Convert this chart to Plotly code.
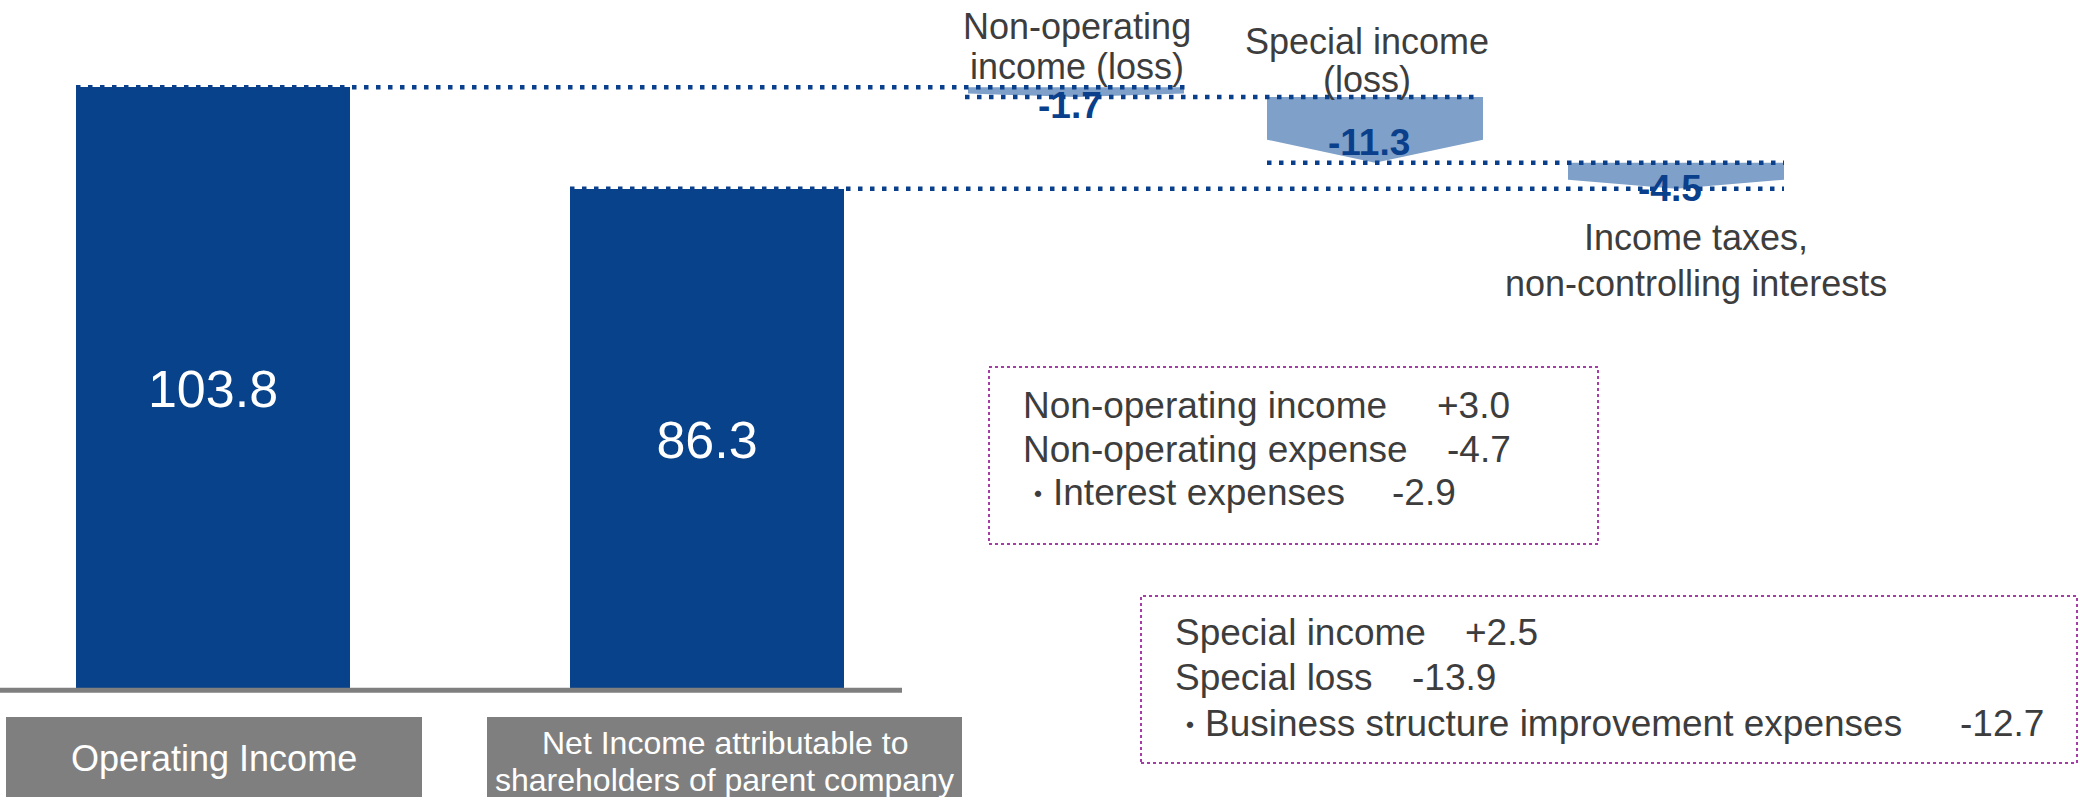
import plotly.graph_objects as go

# ---------------- data ----------------
total_labels = ["Operating Income", "Net Income attributable to<br>shareholders of parent company"]
total_values = [103.8, 86.3]

step_labels = ["Non-operating<br>income (loss)", "Special income<br>(loss)",
               "Income taxes,<br>non-controlling interests"]
step_values = [-1.7, -11.3, -4.5]

detail1_labels = ["Non-operating income", "Non-operating expense", "\u30fbInterest expenses"]
detail1_values = [3.0, -4.7, -2.9]
detail2_labels = ["Special income", "Special loss", "\u30fbBusiness structure improvement expenses"]
detail2_values = [2.5, -13.9, -12.7]

# ---------------- style / layout ----------------
W, H = 2080, 800
FONT = "Liberation Sans, Arial, Noto Sans CJK JP, sans-serif"
BAR_COLOR = "#08428a"
STEP_COLOR = "#7fa0c8"
DOT_COLOR = "#0a3f8c"
TEXT_COLOR = "#3d3d3d"
BOX_GRAY = "#7f7f7f"
BORDER = "#a63ca6"

Y_MIN, Y_MAX = -18.9, 118.8          # value axis range (baseline at ~690 px)
total_x = [213, 707]
total_w = 274
step_x = [1076, 1375, 1676]
step_w = 216
notch = 0.65                           # where the chevron sides end (fraction of step)

def py(p):  # pixel from top -> paper
    return 1 - p / H

def bullet(s, size):
    # keep the full-width bullet, drawn a little smaller
    if s.startswith("\u30fb"):
        return f"<span style='font-size:{size}px'>\u30fb</span>" + s[1:]
    return s

fig = go.Figure()

# total bars
fig.add_trace(go.Bar(
    x=total_x, y=total_values, width=total_w,
    marker=dict(color=BAR_COLOR, line=dict(width=0)),
    text=[f"{v:.1f}" for v in total_values],
    textposition="inside", insidetextanchor="middle", textangle=0,
    constraintext="none",
    textfont=dict(family=FONT, size=52, color="white"),
    hoverinfo="skip", showlegend=False,
))

# cumulative levels
levels = [total_values[0]]
for v in step_values:
    levels.append(round(levels[-1] + v, 4))

# step chevrons
for i, v in enumerate(step_values):
    v0, v1 = levels[i], levels[i + 1]
    vs = v0 + notch * (v1 - v0)
    xl, xr, xc = step_x[i] - step_w / 2, step_x[i] + step_w / 2, step_x[i]
    fig.add_trace(go.Scatter(
        x=[xl, xr, xr, xc, xl, xl], y=[v0, v0, vs, v1, vs, v0],
        fill="toself", fillcolor=STEP_COLOR, mode="lines",
        line=dict(width=0, color=STEP_COLOR),
        hoverinfo="skip", showlegend=False,
    ))

# dotted connectors
def left_t(i):
    return total_x[i] - total_w / 2

def left_s(i):
    return step_x[i] - step_w / 2

def right_s(i):
    return step_x[i] + step_w / 2

conn = [(levels[0], left_t(0), right_s(0) + 5),
        (levels[1], left_s(0) - 3, right_s(1) - 3),
        (levels[2], left_s(1), right_s(2)),
        (levels[3], left_t(1), right_s(2))]
for yv, x0, x1 in conn:
    fig.add_trace(go.Scatter(
        x=[x0, x1], y=[yv, yv], mode="lines",
        line=dict(color=DOT_COLOR, width=4.5, dash="4.5px,7.5px"),
        hoverinfo="skip", showlegend=False,
    ))

ann = []
# step value labels
for i, v in enumerate(step_values):
    ann.append(dict(x=step_x[i] - 6, y=(levels[i] + levels[i + 1]) / 2, xref="x", yref="y",
                    text=f"<b>{v:.1f}</b>", showarrow=False, yshift=-13,
                    font=dict(family=FONT, size=37, color=DOT_COLOR)))

# step names
step_line_y = [[27, 66], [42, 80], [237, 283]]
step_line_dx = [1, -8, 20]
for i, lab in enumerate(step_labels):
    for j, line in enumerate(lab.split("<br>")):
        ann.append(dict(x=step_x[i] + step_line_dx[i], y=py(step_line_y[i][j]),
                        xref="x", yref="paper", text=line, showarrow=False,
                        xanchor="center", yanchor="middle",
                        font=dict(family=FONT, size=36, color=TEXT_COLOR)))

shapes = []
# baseline
shapes.append(dict(type="line", xref="x", yref="y", x0=0, x1=902, y0=0, y1=0,
                   line=dict(color=BOX_GRAY, width=5)))

# category boxes
cat_box = [(6, 422), (487, 962)]
cat_size = [36, 32]
cat_line_y = [[758], [743, 780]]
for (x0, x1), lab, fs, ly in zip(cat_box, total_labels, cat_size, cat_line_y):
    shapes.append(dict(type="rect", xref="x", yref="paper", x0=x0, x1=x1,
                       y0=py(797), y1=py(717), fillcolor=BOX_GRAY, line=dict(width=0),
                       layer="below"))
    for line, yy in zip(lab.split("<br>"), ly):
        ann.append(dict(x=(x0 + x1) / 2, y=py(yy), xref="x", yref="paper", text=line,
                        showarrow=False, xanchor="center", yanchor="middle",
                        font=dict(family=FONT, size=fs, color="white")))

# detail boxes
def detail_box(bx, by, labels, values, lab_x, val_x, row_y):
    shapes.append(dict(type="rect", xref="x", yref="paper", x0=bx[0], x1=bx[1],
                       y0=py(by[1]), y1=py(by[0]),
                       line=dict(color=BORDER, width=2, dash="dot")))
    for lab, v, vx, ry in zip(labels, values, val_x, row_y):
        ann.append(dict(x=lab_x, y=py(ry), xref="x", yref="paper", text=bullet(lab, 30),
                        showarrow=False, xanchor="left", yanchor="middle",
                        font=dict(family=FONT, size=37, color=TEXT_COLOR)))
        ann.append(dict(x=vx, y=py(ry), xref="x", yref="paper", text=f"{v:+.1f}",
                        showarrow=False, xanchor="left", yanchor="middle",
                        font=dict(family=FONT, size=37, color=TEXT_COLOR)))

detail_box((989, 1598), (367, 544), detail1_labels, detail1_values,
           1021, [1435, 1445, 1390], [405, 449, 492])
detail_box((1141, 2077), (596, 763), detail2_labels, detail2_values,
           1173, [1463, 1410, 1958], [632, 677, 723])

fig.update_layout(
    width=W, height=H, margin=dict(l=0, r=0, t=0, b=0),
    paper_bgcolor="white", plot_bgcolor="white",
    xaxis=dict(range=[0, W], visible=False, fixedrange=True),
    yaxis=dict(range=[Y_MIN, Y_MAX], visible=False, fixedrange=True),
    shapes=shapes, annotations=ann, showlegend=False, bargap=0,
    font=dict(family=FONT),
)

fig.write_html("out.html", config={"displayModeBar": False},
               post_script="document.body.style.margin='0';document.body.style.overflow='hidden';")
